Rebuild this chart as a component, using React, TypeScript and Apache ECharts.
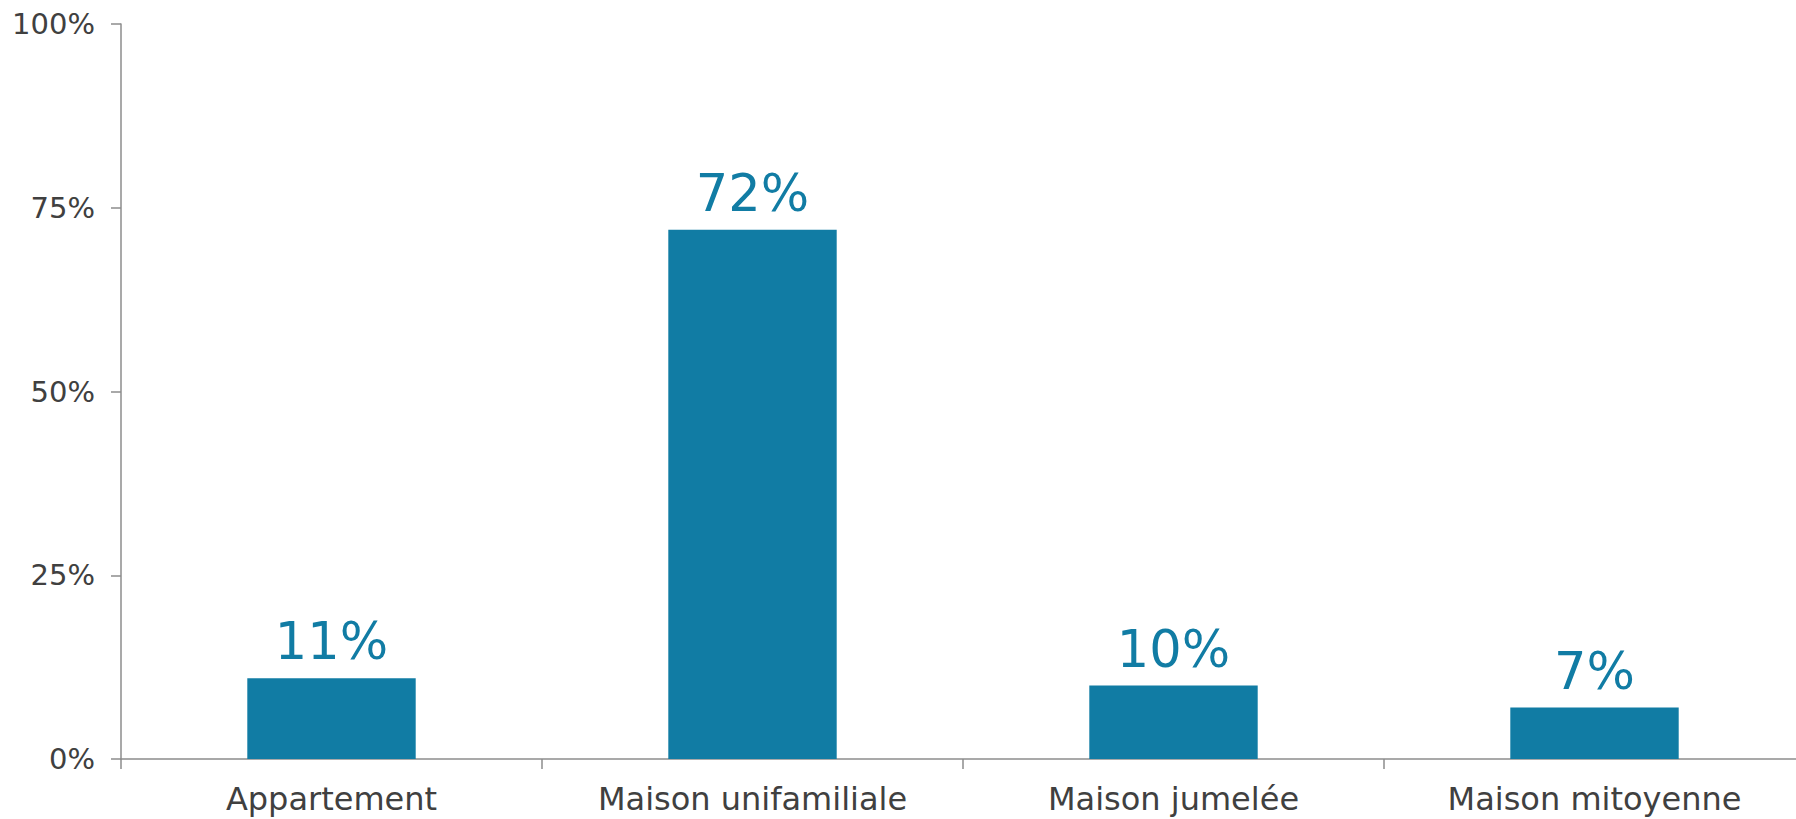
import React, { useEffect, useRef } from "react";
import * as echarts from "echarts";

const categories = ["Appartement", "Maison unifamiliale", "Maison jumelée", "Maison mitoyenne"];
const values = [11, 72, 10, 7];
const yTicks = [0, 25, 50, 75, 100];

export default function App() {
  const ref = useRef<HTMLDivElement>(null);
  useEffect(() => {
    document.body.style.margin = "0";
    const chart = echarts.init(ref.current!, null, { renderer: "svg" });
    chart.setOption({
      animation: false,
      grid: { left: 121, right: 1, top: 24, bottom: 60, containLabel: false },
      xAxis: {
        type: "category",
        data: categories,
        axisLine: { lineStyle: { color: "#8c8c8c", width: 1.5 } },
        axisTick: { show: true, length: 10, lineStyle: { color: "#8c8c8c", width: 1.5 } },
        axisLabel: {
          color: "#404040",
          fontFamily: "DejaVu Sans",
          fontSize: 32,
          margin: 24,
        },
      },
      yAxis: {
        type: "value",
        min: yTicks[0],
        max: yTicks[yTicks.length - 1],
        interval: 25,
        axisLine: { show: true, lineStyle: { color: "#8c8c8c", width: 1.5 } },
        axisTick: { show: true, length: 10, lineStyle: { color: "#8c8c8c", width: 1.5 } },
        splitLine: { show: false },
        axisLabel: {
          color: "#404040",
          fontFamily: "DejaVu Sans",
          fontSize: 29,
          margin: 26,
          formatter: (v: number) => `${v}%`,
        },
      },
      series: [
        {
          type: "bar",
          data: values,
          barWidth: "40%",
          itemStyle: { color: "#117ca4" },
          label: {
            show: true,
            position: "top",
            distance: 11,
            color: "#117ca4",
            fontFamily: "DejaVu Sans",
            fontSize: 51,
            formatter: (p: any) => `${p.value}%`,
          },
        },
      ],
    });
    return () => chart.dispose();
  }, []);
  return (
    <div style={{ width: 1796, height: 819, overflow: "hidden" }}>
      <div ref={ref} style={{ width: 1806, height: 819 }} />
    </div>
  );
}
